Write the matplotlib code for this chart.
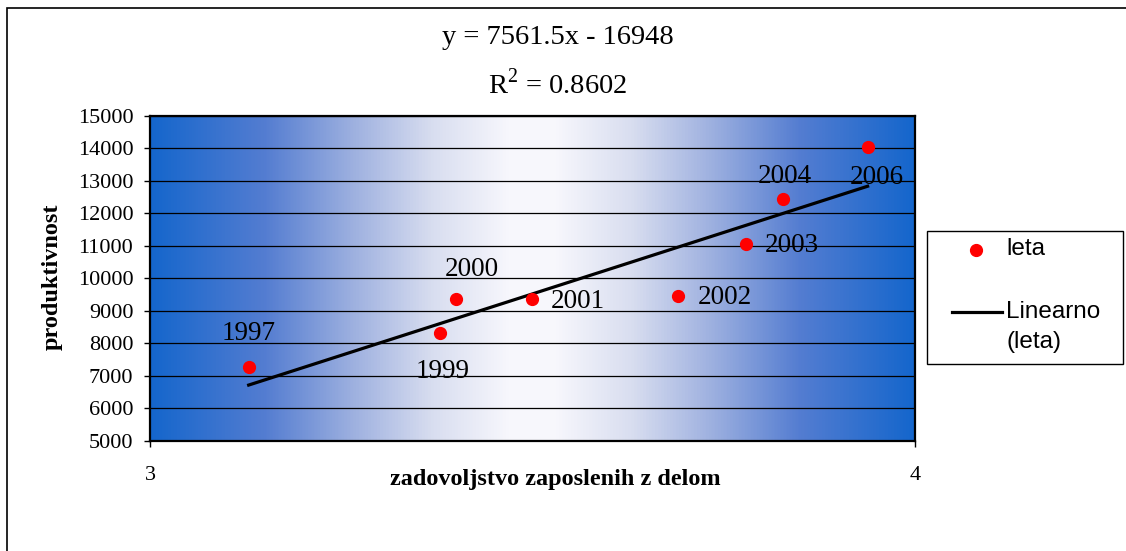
import numpy as np
import matplotlib
matplotlib.use('Agg')
import matplotlib.pyplot as plt
from matplotlib.colors import LinearSegmentedColormap
from matplotlib.lines import Line2D
from matplotlib.patches import Rectangle

# data
years = ['1997', '1999', '2000', '2001', '2002', '2003', '2004', '2006']
zadovoljstvo = [3.129, 3.379, 3.400, 3.499, 3.690, 3.779, 3.828, 3.938]
produktivnost = [7258, 8314, 9360, 9360, 9462, 11062, 12428, 14028]

# trendline as printed on the chart
slope = 7561.5
intercept = -16948
r2 = 0.8602

serif = 'Liberation Serif'
sans = 'Liberation Sans'
plt.rcParams['mathtext.fontset'] = 'custom'
plt.rcParams['mathtext.rm'] = serif

W, H = 1126, 551
def fx(px):
    return px / W
def fy(py):
    return 1 - py / H

fig = plt.figure(figsize=(11.26, 5.51), dpi=100)
ax = fig.add_axes([fx(150), fy(440.7), 765/W, 325/H])

# outer chart frame (right/bottom cut off in original)
fig.patches.append(Rectangle((fx(7), -0.1), 1.2, 1.1 - 8/H,
                             transform=fig.transFigure, fill=False,
                             edgecolor='black', lw=1.2))

# background gradient blue -> white -> blue
cmap = LinearSegmentedColormap.from_list('bg', [
    (0.0, (0.08, 0.40, 0.80)),
    (0.15, (0.33, 0.49, 0.82)),
    (0.27, (0.63, 0.70, 0.88)),
    (0.37, (0.85, 0.87, 0.94)),
    (0.47, (0.97, 0.97, 0.99)),
    (0.53, (0.97, 0.97, 0.99)),
    (0.63, (0.85, 0.87, 0.94)),
    (0.73, (0.63, 0.70, 0.88)),
    (0.85, (0.33, 0.49, 0.82)),
    (1.0, (0.08, 0.40, 0.80)),
])
grad = np.linspace(0, 1, 512).reshape(1, -1)
ax.imshow(grad, cmap=cmap, aspect='auto', extent=[3, 4, 5000, 15000], zorder=0)

ax.set_xlim(3, 4)
ax.set_ylim(5000, 15000)
ax.set_yticks(np.arange(5000, 15001, 1000))
ax.set_xticks([3, 4])
ax.grid(axis='y', color='black', lw=0.9, zorder=1)
for s in ax.spines.values():
    s.set_linewidth(1.6)

ax.tick_params(axis='y', direction='out', length=4, width=1, pad=8, labelsize=16)
ax.tick_params(axis='x', direction='out', length=4, width=1, pad=14, labelsize=16)
for lab in ax.get_xticklabels() + ax.get_yticklabels():
    lab.set_fontfamily(serif)

# points
ax.plot(zadovoljstvo, produktivnost, 'o', color='red', ms=8.5, zorder=4, clip_on=False)

# trendline
xt = np.array([min(zadovoljstvo), max(zadovoljstvo)])
ax.plot(xt, slope*xt + intercept, color='black', lw=2.3, zorder=3)

# year labels
label_offsets = [(0, 24.5), (2, -28), (11.5, 21.6), (33, -2), (34, -1.5), (33, -1.5), (0.7, 16.5), (6.5, -22)]
for yr, x, y, off in zip(years, zadovoljstvo, produktivnost, label_offsets):
    ax.annotate(yr, (x, y), xytext=off, textcoords='offset points',
                ha='center', va='center', fontsize=19.5, family=serif, zorder=5)

# equation
fig.text(fx(558), fy(38), 'y = %.1fx - %d' % (slope, -intercept),
         ha='center', va='center', fontsize=20.5, family=serif)
fig.text(fx(558), fy(84), r'R$^\mathrm{2}$ = %.4f' % r2,
         ha='center', va='center', fontsize=20.5, family=serif)

ax.set_xlabel('zadovoljstvo zaposlenih z delom', fontsize=17.5, fontweight='bold',
              family=serif)
ax.xaxis.set_label_coords((555 - 150) / 765, (440.7 - 479) / 325)
ax.xaxis.label.set_va('center')
ax.set_ylabel('produktivnost', fontsize=17.5, fontweight='bold', family=serif)
ax.yaxis.set_label_coords((52 - 150) / 765, (440.7 - 277) / 325)
ax.yaxis.label.set_va('center')

# legend drawn by hand to match the box layout
fig.patches.append(Rectangle((fx(927), fy(364)), 196/W, 133/H, transform=fig.transFigure,
                             facecolor='white', edgecolor='black', lw=1.0))
fig.lines.append(Line2D([fx(976)], [fy(250)], marker='o', color='red', ls='none', ms=8.5,
                        transform=fig.transFigure))
fig.lines.append(Line2D([fx(952), fx(1002)], [fy(312), fy(312)], color='black', lw=2.3,
                        transform=fig.transFigure))
fig.text(fx(1006), fy(249), 'leta', ha='left', va='center', fontsize=17.5, family=sans)
fig.text(fx(1006), fy(312), 'Linearno', ha='left', va='center', fontsize=17.5, family=sans)
fig.text(fx(1006), fy(342), '(leta)', ha='left', va='center', fontsize=17.5, family=sans)

fig.savefig('out.png', dpi=100)
